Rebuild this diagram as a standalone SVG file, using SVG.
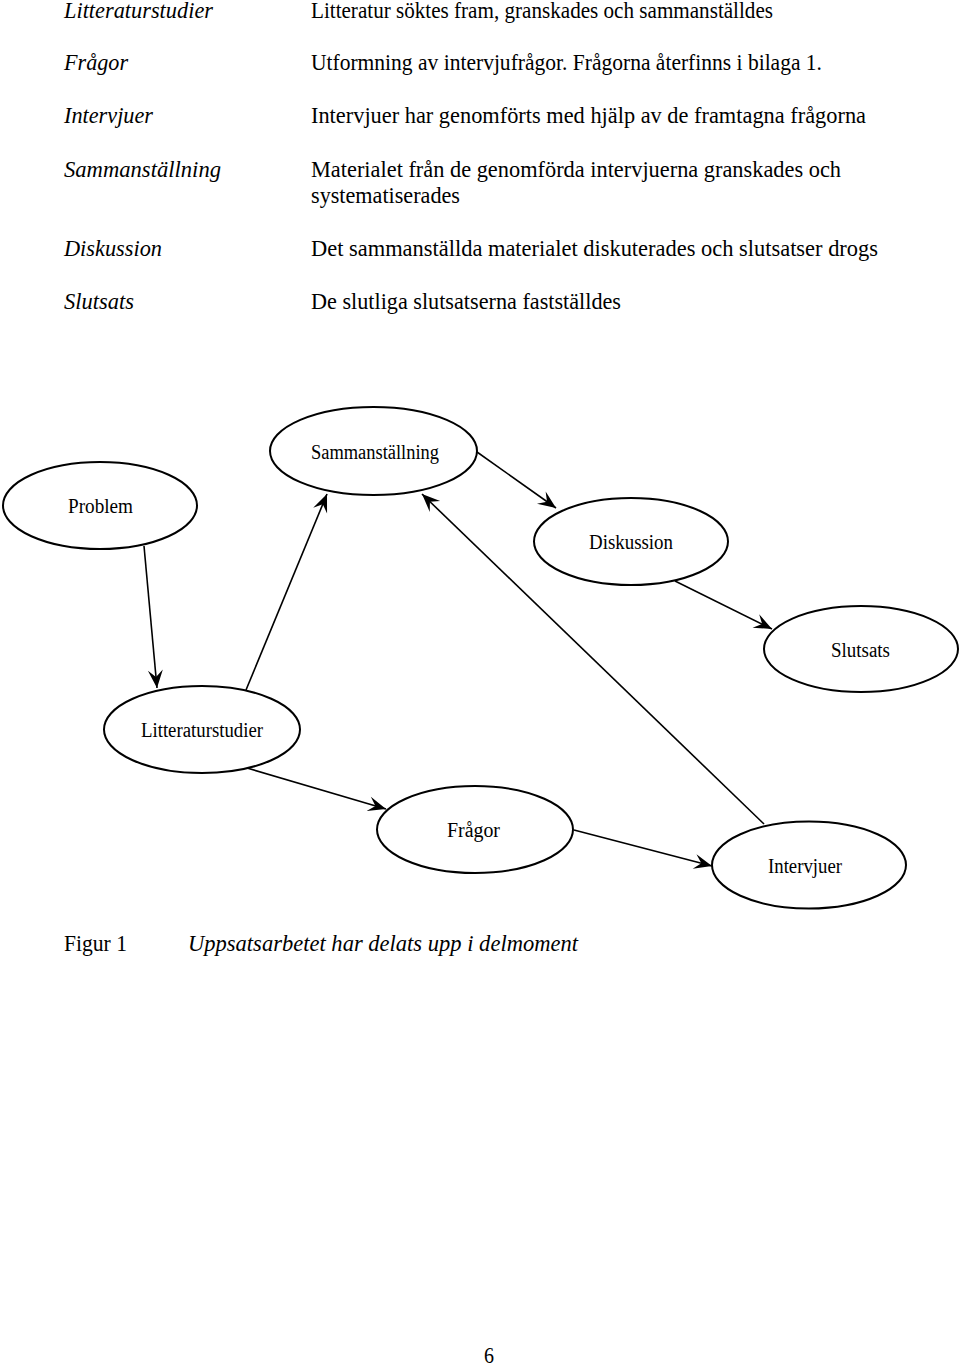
<svg xmlns="http://www.w3.org/2000/svg" width="960" height="1366" viewBox="0 0 960 1366">
<style>
  .t { font-family: "Liberation Serif", "Times New Roman", serif; font-size: 23px; fill: #000; }
  .i { font-style: italic; }
  .lbl { font-family: "Liberation Serif", "Times New Roman", serif; font-size: 20px; fill: #000; text-anchor: middle; }
  .node ellipse { fill: #fff; stroke: #000; stroke-width: 2; }
  .conn line { stroke: #000; stroke-width: 1.6; marker-end: url(#arr); }
</style>
<defs>
  <marker id="arr" markerUnits="userSpaceOnUse" markerWidth="24" markerHeight="20" viewBox="-20 -10 24 20" refX="0" refY="0" orient="auto">
    <path d="M0,0 L-18,-7.5 L-11,0 L-18,7.5 Z" fill="#000"/>
  </marker>
</defs>
<rect width="960" height="1366" fill="#fff"/>

<g id="text-table">
  <text class="t i" x="64" y="18" textLength="149" lengthAdjust="spacingAndGlyphs">Litteraturstudier</text>
  <text class="t i" x="64" y="70" textLength="64" lengthAdjust="spacingAndGlyphs">Frågor</text>
  <text class="t i" x="64" y="123" textLength="89" lengthAdjust="spacingAndGlyphs">Intervjuer</text>
  <text class="t i" x="64" y="177" textLength="157" lengthAdjust="spacingAndGlyphs">Sammanställning</text>
  <text class="t i" x="64" y="256" textLength="98" lengthAdjust="spacingAndGlyphs">Diskussion</text>
  <text class="t i" x="64" y="309" textLength="70" lengthAdjust="spacingAndGlyphs">Slutsats</text>

  <text class="t" x="311" y="18" textLength="462" lengthAdjust="spacingAndGlyphs">Litteratur söktes fram, granskades och sammanställdes</text>
  <text class="t" x="311" y="70" textLength="511" lengthAdjust="spacingAndGlyphs">Utformning av intervjufrågor. Frågorna återfinns i bilaga 1.</text>
  <text class="t" x="311" y="123" textLength="555" lengthAdjust="spacingAndGlyphs">Intervjuer har genomförts med hjälp av de framtagna frågorna</text>
  <text class="t" x="311" y="177" textLength="530" lengthAdjust="spacingAndGlyphs">Materialet från de genomförda intervjuerna granskades och</text>
  <text class="t" x="311" y="203" textLength="149" lengthAdjust="spacingAndGlyphs">systematiserades</text>
  <text class="t" x="311" y="256" textLength="567" lengthAdjust="spacingAndGlyphs">Det sammanställda materialet diskuterades och slutsatser drogs</text>
  <text class="t" x="311" y="309" textLength="310" lengthAdjust="spacingAndGlyphs">De slutliga slutsatserna fastställdes</text>
</g>

<g id="connectors" class="conn">
  <line x1="144" y1="546" x2="157" y2="688"/>
  <line x1="246" y1="690" x2="327" y2="494"/>
  <line x1="764" y1="824" x2="422" y2="494"/>
  <line x1="477" y1="452" x2="556" y2="508"/>
  <line x1="675" y1="581" x2="772" y2="629"/>
  <line x1="247" y1="768" x2="386" y2="809"/>
  <line x1="574" y1="830" x2="712" y2="866"/>
</g>

<g id="node-sammanstallning" class="node">
  <ellipse cx="373.5" cy="451" rx="103.5" ry="44"/>
  <text class="lbl" x="375" y="459" textLength="128" lengthAdjust="spacingAndGlyphs">Sammanställning</text>
</g>
<g id="node-problem" class="node">
  <ellipse cx="100" cy="505.5" rx="97" ry="43.5"/>
  <text class="lbl" x="100.5" y="513" textLength="65" lengthAdjust="spacingAndGlyphs">Problem</text>
</g>
<g id="node-diskussion" class="node">
  <ellipse cx="631" cy="541.5" rx="97" ry="43.5"/>
  <text class="lbl" x="631" y="549" textLength="84" lengthAdjust="spacingAndGlyphs">Diskussion</text>
</g>
<g id="node-slutsats" class="node">
  <ellipse cx="861" cy="649" rx="97" ry="43"/>
  <text class="lbl" x="860.5" y="657" textLength="59" lengthAdjust="spacingAndGlyphs">Slutsats</text>
</g>
<g id="node-litteraturstudier" class="node">
  <ellipse cx="202" cy="729.5" rx="98" ry="43.5"/>
  <text class="lbl" x="202" y="737" textLength="122" lengthAdjust="spacingAndGlyphs">Litteraturstudier</text>
</g>
<g id="node-fragor" class="node">
  <ellipse cx="475" cy="829.5" rx="98" ry="43.5"/>
  <text class="lbl" x="473.5" y="837" textLength="53" lengthAdjust="spacingAndGlyphs">Frågor</text>
</g>
<g id="node-intervjuer" class="node">
  <ellipse cx="809" cy="865" rx="97" ry="43.5"/>
  <text class="lbl" x="805" y="873" textLength="74" lengthAdjust="spacingAndGlyphs">Intervjuer</text>
</g>

<g id="caption">
  <text class="t" x="64" y="951" textLength="63" lengthAdjust="spacingAndGlyphs">Figur 1</text>
  <text class="t i" x="188" y="951" textLength="390" lengthAdjust="spacingAndGlyphs">Uppsatsarbetet har delats upp i delmoment</text>
  <text class="t" x="484" y="1363" textLength="10" lengthAdjust="spacingAndGlyphs">6</text>
</g>
</svg>
